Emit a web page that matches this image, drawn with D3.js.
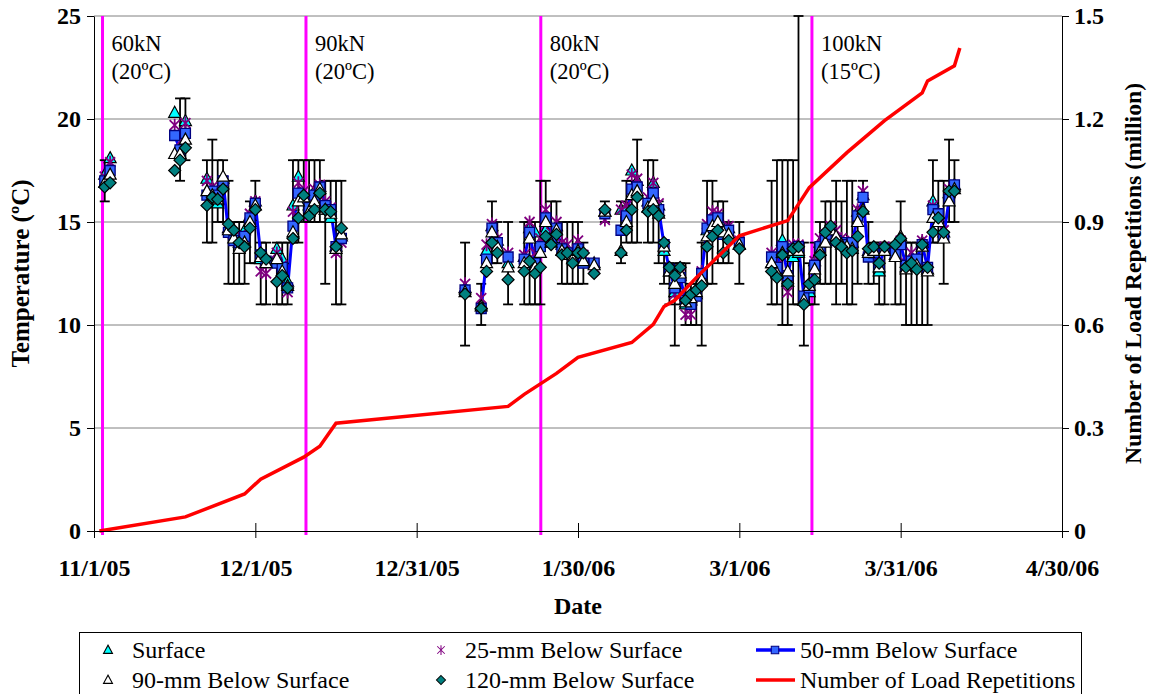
<!DOCTYPE html>
<html>
<head>
<meta charset="utf-8">
<script src="https://cdn.jsdelivr.net/npm/d3@7"></script>
<style>
  body { margin: 0; background: #fff; }
  svg { display: block; }
</style>
</head>
<body>
<svg id="chart" width="1149" height="694" font-family="Liberation Serif, Times New Roman, serif"></svg>
<script>
// sampling dates (daily readings, gaps where no data)
const dates = [
  "11/3/05", "11/4/05",
  "11/16/05", "11/17/05", "11/18/05",
  "11/22/05", "11/23/05", "11/24/05", "11/25/05", "11/26/05", "11/27/05", "11/28/05", "11/29/05", "11/30/05", "12/1/05", "12/2/05", "12/3/05",
  "12/5/05", "12/6/05", "12/7/05", "12/8/05", "12/9/05", "12/10/05", "12/11/05", "12/12/05", "12/13/05", "12/14/05", "12/15/05", "12/16/05", "12/17/05",
  "1/9/06", "1/12/06", "1/13/06", "1/14/06", "1/15/06", "1/17/06", "1/20/06", "1/21/06", "1/22/06", "1/23/06", "1/24/06", "1/25/06", "1/26/06", "1/27/06", "1/28/06", "1/29/06", "1/30/06", "1/31/06", "2/2/06",
  "2/4/06", "2/7/06", "2/8/06", "2/9/06", "2/10/06", "2/12/06", "2/13/06", "2/14/06", "2/15/06", "2/16/06", "2/17/06", "2/18/06", "2/19/06", "2/20/06", "2/21/06", "2/22/06", "2/23/06", "2/24/06", "2/25/06", "2/26/06", "2/27/06", "3/1/06",
  "3/7/06", "3/8/06", "3/9/06", "3/10/06", "3/11/06", "3/12/06", "3/13/06", "3/14/06", "3/15/06", "3/16/06", "3/17/06", "3/18/06", "3/19/06", "3/20/06", "3/21/06", "3/22/06", "3/23/06", "3/24/06", "3/25/06", "3/26/06",
  "3/27/06", "3/28/06", "3/30/06", "3/31/06", "4/1/06", "4/2/06", "4/3/06", "4/4/06", "4/5/06", "4/6/06", "4/7/06", "4/8/06", "4/9/06", "4/10/06"
]

const surface = [
  17.3, 18.1,
  20.3, 18.6, 19.9,
  17.1, 16.6, 15.9, 17.1, 14.7, 14.5, 14.0, 14.6, 15.3, 16.0, 13.2, 13.0,
  13.7, 13.2, 12.1, 15.8, 17.2, 16.3, 15.8, 16.5, 16.7, 15.6, 15.2, 13.8, 14.3,
  11.8, 11.0, 13.6, 14.8, 14.1, 13.0, 13.3, 14.7, 14.5, 14.0, 14.6, 14.3, 14.8, 13.9, 13.7, 13.4, 13.9, 13.2, 13.0,
  15.5, 15.6, 15.7, 17.5, 17.0, 16.0, 16.9, 15.8, 13.6, 12.6, 11.6, 12.4, 11.0, 11.2, 11.5, 12.3, 14.6, 15.0, 15.2, 14.7, 14.7, 13.9,
  13.0, 12.6, 14.1, 12.1, 13.3, 13.5, 11.2, 11.6, 13.1, 14.0, 14.2, 14.7, 14.2, 14.0, 13.8, 14.0, 15.5, 16.3, 13.6, 13.6,
  12.6, 13.7, 13.4, 14.0, 12.8, 13.3, 12.9, 14.0, 12.7, 16.0, 15.4, 14.5, 16.4, 16.8
]

const below25 = [
  17.2, 17.9,
  19.7, 18.9, 19.8,
  17.0, 16.7, 16.4, 17.0, 14.5, 14.3, 14.2, 14.3, 15.4, 16.0, 12.6, 12.5,
  13.5, 12.9, 11.6, 15.5, 16.9, 16.5, 16.0, 16.6, 16.8, 16.0, 15.7, 13.5, 14.0,
  12.0, 11.3, 13.9, 14.9, 14.2, 13.5, 13.4, 15.0, 13.5, 14.2, 15.6, 14.5, 15.0, 14.0, 13.9, 13.6, 14.1, 13.4, 12.8,
  15.1, 15.6, 15.8, 17.3, 17.1, 16.2, 16.9, 15.9, 13.8, 12.7, 11.5, 12.5, 10.5, 10.5, 11.4, 12.6, 14.9, 15.5, 15.4, 14.6, 14.8, 14.1,
  13.5, 12.9, 13.6, 11.6, 13.9, 13.9, 11.4, 11.9, 13.1, 14.2, 14.4, 14.8, 14.6, 14.2, 14.0, 14.1, 15.6, 16.5, 13.5, 13.7,
  12.9, 13.8, 13.6, 14.1, 13.0, 13.5, 13.0, 14.1, 12.8, 15.8, 15.3, 14.6, 16.6, 16.7
]

const below50 = [
  17.0, 17.5,
  19.2, 18.5, 19.3,
  16.3, 16.5, 16.3, 17.0, 14.5, 14.1, 14.0, 14.3, 15.2, 15.9, 13.4, 13.1,
  13.0, 12.8, 11.8, 14.8, 16.4, 16.1, 15.7, 16.3, 16.7, 15.8, 15.6, 13.8, 14.2,
  11.7, 10.8, 13.2, 14.7, 14.0, 13.3, 13.2, 14.5, 13.0, 13.8, 15.2, 14.2, 14.7, 13.7, 13.5, 13.3, 13.7, 13.0, 13.0,
  15.4, 14.6, 15.3, 16.6, 16.7, 15.9, 16.4, 15.6, 13.9, 12.7, 11.8, 12.3, 11.2, 11.0, 11.4, 12.5, 14.7, 15.1, 15.2, 14.4, 14.6, 14.0,
  13.3, 12.8, 13.8, 12.4, 13.7, 13.8, 11.4, 11.8, 12.9, 13.8, 14.1, 14.4, 14.1, 14.0, 13.9, 14.0, 15.3, 16.2, 13.3, 13.5,
  12.9, 13.7, 13.5, 13.9, 12.9, 13.1, 13.2, 13.9, 12.8, 15.6, 15.4, 14.3, 16.1, 16.8
]

const below90 = [
  16.9, 17.3,
  18.3, 18.3, 19.0,
  16.5, 16.3, 16.1, 17.2, 14.6, 14.2, 13.7, 14.0, 15.0, 15.8, 13.3, 13.0,
  13.2, 12.6, 11.9, 14.5, 16.0, 16.2, 15.5, 16.0, 16.6, 15.6, 15.4, 13.7, 14.4,
  11.6, 10.9, 13.0, 14.5, 13.8, 12.8, 13.0, 14.2, 12.8, 13.5, 15.0, 14.0, 14.6, 13.6, 13.4, 13.2, 13.6, 13.1, 12.9,
  15.5, 13.6, 15.0, 16.3, 16.5, 15.7, 16.0, 15.4, 13.8, 12.6, 12.0, 12.5, 11.1, 11.3, 11.6, 12.2, 14.3, 14.8, 15.0, 14.5, 14.4, 13.9,
  13.0, 12.5, 13.5, 12.6, 13.6, 13.6, 11.2, 11.9, 12.7, 13.6, 14.0, 14.6, 14.3, 13.9, 13.8, 13.7, 15.0, 15.6, 13.5, 13.6,
  12.8, 13.6, 13.3, 14.3, 12.7, 13.0, 12.9, 13.8, 12.6, 15.2, 15.0, 14.2, 16.0, 16.6
]

const below120 = [
  16.7, 16.9,
  17.5, 18.0, 18.6,
  15.8, 16.2, 16.1, 16.6, 14.9, 14.6, 14.0, 13.8, 14.7, 15.6, 13.5, 13.2,
  12.1, 12.4, 11.8, 14.2, 15.2, 16.3, 15.3, 15.6, 16.4, 15.6, 15.5, 13.8, 14.7,
  11.5, 10.8, 12.6, 14.0, 13.5, 12.2, 12.6, 13.1, 12.5, 12.8, 14.3, 13.9, 14.4, 13.4, 13.5, 13.0, 13.5, 13.5, 12.5,
  15.6, 13.5, 14.6, 15.6, 16.2, 15.5, 15.6, 15.3, 14.0, 12.8, 12.4, 12.8, 11.2, 11.5, 11.7, 11.9, 13.8, 14.3, 14.6, 13.5, 14.1, 13.7,
  12.6, 12.3, 13.4, 12.0, 13.7, 13.8, 11.0, 12.0, 12.2, 13.4, 14.5, 14.8, 14.0, 13.8, 13.5, 13.6, 14.3, 15.5, 13.7, 13.8,
  13.0, 13.8, 13.9, 14.2, 12.8, 13.0, 12.7, 13.9, 12.8, 14.5, 15.2, 14.5, 16.5, 16.5
]

// daily min / max range (error bars)
const errLow = [
  16, null,
  null, 17, 18,
  14, 14, 15, 15, 12, 12, 12, 12, 13, 13, 11, 11,
  11, 11, 11, 14, 14, 15, 15, 15, 15, 12, 15, 11, 11,
  9, 10, null, 13, 13, 11, 11, 11, 11, 11, 14, 14, 14, 12, 12, 12, 12, 12, null,
  15, 13, 14, 14, 14, 14, 14, 13, 12, 11, 9, 11, 10, 10, 10, 9, 12, 12, 13, 13, 13, 12,
  11, 11, 10, 10, 11, 11, 9, 11, 11, 12, 12, 12, 11, 12, 11, 11, 12, 16, 12, 12,
  11, 11, 11, 11, 10, 10, 10, 10, 10, 14, 14, 12, 15, 15
]

const errHigh = [
  18, null,
  null, 21, 21,
  18, 19, 18, 18, 17, 15, 15, 15, 16, 17, 14, 14,
  14, 14, 14, 18, 18, 18, 18, 18, 18, 17, 17, 17, 17,
  14, 12, null, 16, 15, 15, 15, 15, 15, 17, 17, 16, 16, 15, 15, 15, 15, 14, null,
  16, 16, 17, 17, 19, 18, 18, 16, 14, 13, 13, 13, 13, 12, 12, 14, 17, 17, 16, 16, 15, 15,
  17, 18, 18, 18, 18, 25, 14, 13, 14, 15, 16, 16, 17, 16, 17, 17, 15, 17, 15, 14,
  14, 14, 14, 16, 14, 14, 14, 14, 14, 18, 17, 17, 19, 18
]

// cumulative load repetitions (million)
const loadDates = ["11/2/05", "11/18/05", "11/29/05", "12/2/05", "12/10/05", "12/13/05", "12/16/05", "1/17/06", "1/20/06", "1/26/06", "1/30/06", "2/9/06", "2/13/06", "2/15/06", "2/17/06", "2/21/06", "3/1/06", "3/10/06", "3/14/06", "3/21/06", "3/28/06", "4/4/06", "4/5/06", "4/10/06", "4/11/06"]
const loadReps = [0, 0.041, 0.108, 0.151, 0.215, 0.247, 0.314, 0.363, 0.398, 0.459, 0.506, 0.549, 0.602, 0.654, 0.672, 0.738, 0.860, 0.904, 1.0, 1.102, 1.195, 1.276, 1.311, 1.355, 1.407]

// load level changes
const loadChangeDates = ["11/2/05 14:00", "12/10/05 10:00", "1/23/06 02:00", "3/14/06 12:00"]
const loadLabels = ["60kN", "90kN", "80kN", "100kN"]
const loadTemps = ["(20ºC)", "(20ºC)", "(20ºC)", "(15ºC)"]

const xTicks = ["11/1/05", "12/1/05", "12/31/05", "1/30/06", "3/1/06", "3/31/06", "4/30/06"]
const yTicks = [0, 5, 10, 15, 20, 25]
const y2Ticks = [0, 0.3, 0.6, 0.9, 1.2, 1.5]

const legendItems = ["Surface", "25-mm Below Surface", "50-mm Below Surface", "90-mm Below Surface", "120-mm Below Surface", "Number of Load Repetitions"]

function drawChart() {
  const margin = { top: 16, right: 87, bottom: 163, left: 94 }
  const width = 1149, height = 694
  const serif = "Liberation Serif, Times New Roman, serif"

  const parse = d3.timeParse("%m/%d/%y")
  const parseHour = d3.timeParse("%m/%d/%y %H:%M")
  const fmt = d3.timeFormat("%-m/%-d/%y")

  const rows = dates.map((d, i) => ({
    date: parse(d), s: surface[i], d25: below25[i], d50: below50[i],
    d90: below90[i], d120: below120[i], lo: errLow[i], hi: errHigh[i]
  }))
  const load = loadDates.map((d, i) => ({ date: parse(d), v: loadReps[i] }))

  const x = d3.scaleTime()
    .domain([parse(xTicks[0]), parse(xTicks[xTicks.length - 1])])
    .range([margin.left, width - margin.right])
  const y = d3.scaleLinear().domain([0, 25]).range([height - margin.bottom, margin.top])
  const y2 = d3.scaleLinear().domain([0, 1.5]).range([height - margin.bottom, margin.top])

  const svg = d3.select("#chart")
  const bottom = height - margin.bottom

  // gridlines
  svg.append("g").selectAll("line")
    .data(yTicks.filter(d => d > 0))
    .join("line")
    .attr("x1", margin.left).attr("x2", width - margin.right)
    .attr("y1", d => y(d)).attr("y2", d => y(d))
    .attr("stroke", "#808080").attr("stroke-width", 1)

  // load change markers
  const ev = svg.append("g")
  loadChangeDates.forEach((d, i) => {
    const xe = x(parseHour(d))
    ev.append("line")
      .attr("x1", xe).attr("x2", xe).attr("y1", margin.top).attr("y2", bottom + 4)
      .attr("stroke", "#ff00ff").attr("stroke-width", 3)
    ev.append("text").attr("x", xe + 9).attr("y", 51).text(loadLabels[i])
      .attr("font-size", 22.5)
    ev.append("text").attr("x", xe + 9).attr("y", 79).text(loadTemps[i])
      .attr("font-size", 22.5)
  })

  // error bars
  const eb = svg.append("g").attr("stroke", "#000").attr("stroke-width", 1.8)
  rows.filter(d => d.lo != null).forEach(d => {
    const xc = x(d.date)
    eb.append("line").attr("x1", xc).attr("x2", xc).attr("y1", y(d.lo)).attr("y2", y(d.hi))
    eb.append("line").attr("x1", xc - 5).attr("x2", xc + 5).attr("y1", y(d.lo)).attr("y2", y(d.lo))
    eb.append("line").attr("x1", xc - 5).attr("x2", xc + 5).attr("y1", y(d.hi)).attr("y2", y(d.hi))
  })

  // 50-mm line, broken where days are missing
  const runs = []
  rows.forEach((d, i) => {
    if (i && d3.timeDay.count(rows[i - 1].date, d.date) === 1) runs[runs.length - 1].push(d)
    else runs.push([d])
  })
  const line50 = d3.line().x(d => x(d.date)).y(d => y(d.d50))
  svg.append("g").selectAll("path")
    .data(runs.filter(r => r.length > 1))
    .join("path")
    .attr("d", line50)
    .attr("fill", "none").attr("stroke", "#0000ff").attr("stroke-width", 3)

  const shapes = {
    tri: "M0,-6.5L6,4.5L-6,4.5Z",
    star: "M-5,-5L5,5M-5,5L5,-5M0,-6.5L0,6.5",
    sq: "M-5,-5H5V5H-5Z",
    dia: "M0,-6L6,0L0,6L-6,0Z"
  }

  function markers(key, shape, fill, stroke, sw) {
    svg.append("g").selectAll("path")
      .data(rows.filter(d => d[key] != null))
      .join("path")
      .attr("transform", d => `translate(${x(d.date)},${y(d[key])})`)
      .attr("d", shapes[shape])
      .attr("fill", fill).attr("stroke", stroke).attr("stroke-width", sw)
  }

  markers("s", "tri", "#00ffff", "#000", 1.2)
  markers("d25", "star", "none", "#800080", 1.8)
  markers("d50", "sq", "#3366ff", "#000080", 1.3)
  markers("d90", "tri", "#fff", "#000", 1.2)
  markers("d120", "dia", "#008080", "#000", 1.2)

  // load repetitions on secondary axis
  svg.append("path")
    .datum(load)
    .attr("d", d3.line().x(d => x(d.date)).y(d => y2(d.v)))
    .attr("fill", "none").attr("stroke", "#ff0000").attr("stroke-width", 3.5)

  // axes
  const xAxis = svg.append("g")
    .attr("transform", `translate(0,${bottom})`)
    .call(d3.axisBottom(x).tickValues(xTicks.map(parse)).tickFormat(fmt).tickSizeOuter(0))
  xAxis.selectAll(".tick line").attr("y1", -8).attr("y2", 7)
  xAxis.selectAll("text").attr("y", 28)

  const yAxis = svg.append("g")
    .attr("transform", `translate(${margin.left},0)`)
    .call(d3.axisLeft(y).tickValues(yTicks).tickSize(7).tickPadding(6).tickSizeOuter(0))

  const y2Axis = svg.append("g")
    .attr("transform", `translate(${width - margin.right},0)`)
    .call(d3.axisRight(y2).tickValues(y2Ticks).tickSize(7).tickPadding(5).tickSizeOuter(0)
      .tickFormat(d => d === 0 ? "0" : d3.format(".1f")(d)))

  ;[xAxis, yAxis, y2Axis].forEach(a => {
    a.attr("font-family", serif)
    a.selectAll("path, line").attr("stroke", "#000")
    a.selectAll("text")
      .attr("font-weight", "bold").attr("font-size", 24).attr("fill", "#000")
  })

  // axis titles
  svg.append("text")
    .attr("x", (margin.left + width - margin.right) / 2).attr("y", 614)
    .attr("text-anchor", "middle").attr("font-weight", "bold").attr("font-size", 24)
    .text("Date")
  svg.append("text")
    .attr("transform", `translate(29,${(margin.top + bottom) / 2}) rotate(-90)`)
    .attr("text-anchor", "middle").attr("font-weight", "bold").attr("font-size", 25)
    .text("Temperature (ºC)")
  svg.append("text")
    .attr("transform", `translate(1141,${(margin.top + bottom) / 2}) rotate(-90)`)
    .attr("text-anchor", "middle").attr("font-weight", "bold").attr("font-size", 23.7)
    .text("Number of Load Repetitions (million)")

  // legend
  const lg = svg.append("g")
  lg.append("rect").attr("x", 79.5).attr("y", 632.5).attr("width", 1002).attr("height", 80)
    .attr("fill", "#fff").attr("stroke", "#000")
  const cols = [108, 441, 775]
  const rowsY = [650, 680]
  const specs = [["tri", "#00ffff", "#000"], ["star", "none", "#800080"], ["sq", "#3366ff", "#000080"],
    ["tri", "#fff", "#000"], ["dia", "#008080", "#000"], null]
  legendItems.forEach((name, i) => {
    const cx = cols[i % 3], cy = rowsY[Math.floor(i / 3)]
    const g = lg.append("g")
    if (i === 2 || i === 5) {
      g.append("line").attr("x1", cx - 19).attr("x2", cx + 20).attr("y1", cy).attr("y2", cy)
        .attr("stroke", i === 2 ? "#0000ff" : "#ff0000").attr("stroke-width", 3.5)
    }
    const spec = specs[i]
    if (spec) {
      g.append("path").attr("transform", `translate(${cx},${cy}) scale(0.75)`)
        .attr("d", shapes[spec[0]]).attr("fill", spec[1]).attr("stroke", spec[2]).attr("stroke-width", 1.4)
    }
    g.append("text")
      .attr("x", i % 3 === 2 ? cx + 25 : cx + 24).attr("y", cy).attr("dy", "0.35em")
      .attr("font-size", 24).text(name)
  })
}

window.onload = drawChart
</script>
</body>
</html>
